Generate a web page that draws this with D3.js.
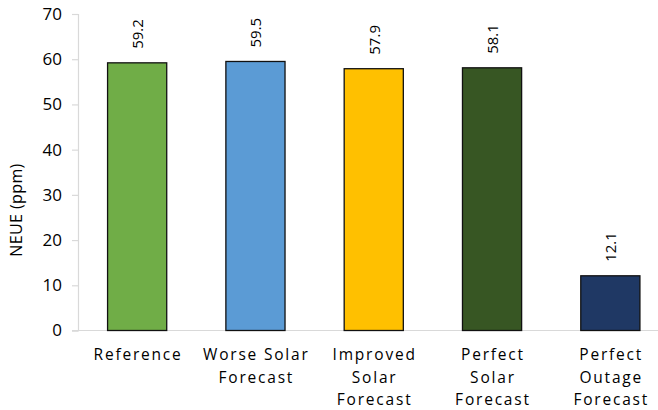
<!DOCTYPE html>
<html>
<head>
<meta charset="utf-8">
<script src="https://cdn.jsdelivr.net/npm/d3@7"></script>
<style>
  html, body { margin: 0; padding: 0; background: #fff; }
  svg { display: block; font-family: "Open Sans", "Noto Sans", sans-serif; }
</style>
</head>
<body>
<svg id="chart" width="658" height="410"></svg>
<script>
// Scenario names, one array entry per line of the wrapped axis label
const categories = ["Reference", "Worse Solar Forecast", "Improved Solar Forecast", "Perfect Solar Forecast", "Perfect Outage Forecast"];
const categoryLines = [
  ["Reference"],
  ["Worse Solar", "Forecast"],
  ["Improved", "Solar", "Forecast"],
  ["Perfect", "Solar", "Forecast"],
  ["Perfect", "Outage", "Forecast"]
];
const neueValues = [59.2, 59.5, 57.9, 58.1, 12.1];
const barColors = ["#70AD47", "#5B9BD5", "#FFC000", "#375623", "#1F3864"];
const yTicks = [0, 10, 20, 30, 40, 50, 60, 70];
const yLabel = "NEUE (ppm)";

const svg = d3.select("#chart");
const margin = { left: 78, top: 14, bottom: 330.5 };

const x = d3.scaleBand()
  .domain(categories)
  .range([margin.left, 669.5])
  .paddingInner(0.5)
  .paddingOuter(0.25);

const y = d3.scaleLinear()
  .domain([0, 70])
  .range([margin.bottom, margin.top]);

// Y axis: light grey line with outward ticks
const yAxis = d3.axisLeft(y).tickValues(yTicks).tickSize(6).tickPadding(10);
const gy = svg.append("g")
  .attr("transform", `translate(${margin.left},0)`)
  .call(yAxis);
gy.select(".domain").attr("stroke", "#d9d9d9").attr("stroke-width", 1.2);
gy.selectAll(".tick line").attr("stroke", "#d9d9d9").attr("stroke-width", 1.2);
gy.selectAll(".tick text")
  .attr("fill", "#000")
  .style("font-size", "17px")
  .style("font-family", "'Open Sans', sans-serif");

// X axis baseline
svg.append("line")
  .attr("x1", margin.left - 6)
  .attr("x2", 658)
  .attr("y1", y(0))
  .attr("y2", y(0))
  .attr("stroke", "#d9d9d9")
  .attr("stroke-width", 1.2);

// Bars
svg.append("g")
  .selectAll("rect")
  .data(categories)
  .join("rect")
  .attr("x", d => x(d))
  .attr("width", x.bandwidth())
  .attr("y", (d, i) => y(neueValues[i]))
  .attr("height", (d, i) => y(0) - y(neueValues[i]))
  .attr("fill", (d, i) => barColors[i])
  .attr("stroke", "#111")
  .attr("stroke-width", 1.3);

// Value labels, rotated, above each bar
svg.append("g")
  .selectAll("text")
  .data(categories)
  .join("text")
  .attr("transform", (d, i) => `translate(${x(d) + x.bandwidth() / 2 + 6},${y(neueValues[i]) - 14}) rotate(-90)`)
  .attr("text-anchor", "start")
  .style("font-size", "15px")
  .attr("fill", "#000")
  .text((d, i) => neueValues[i].toFixed(1));

// Category labels, wrapped over several lines
const catG = svg.append("g")
  .selectAll("text")
  .data(categories)
  .join("text")
  .attr("text-anchor", "middle")
  .style("font-size", "15.5px")
  .style("letter-spacing", "1.8px")
  .attr("fill", "#000");
catG.each(function (d, i) {
  const t = d3.select(this);
  categoryLines[i].forEach((line, k) => {
    t.append("tspan")
      .attr("x", x(d) + x.bandwidth() / 2 + 0.9)
      .attr("y", 360 + k * 22.5)
      .text(line);
  });
});

// Y axis title
svg.append("text")
  .attr("transform", "translate(22,210) rotate(-90)")
  .attr("text-anchor", "middle")
  .style("font-size", "16px")
  .style("letter-spacing", "0.4px")
  .attr("fill", "#000")
  .text(yLabel);
</script>
</body>
</html>
